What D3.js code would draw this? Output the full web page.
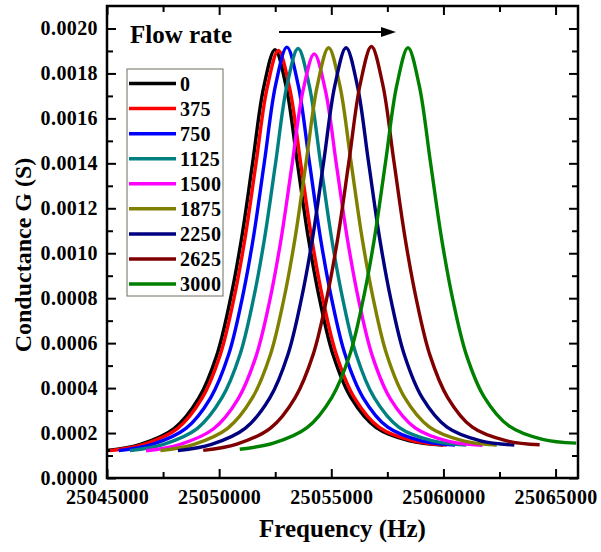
<!DOCTYPE html>
<html>
<head>
<meta charset="utf-8">
<script src="https://cdn.jsdelivr.net/npm/d3@7/dist/d3.min.js"></script>
<style>
  html, body { margin: 0; padding: 0; background: #fff; }
  svg { display: block; }
  text { font-family: "Liberation Serif", "Times New Roman", serif; font-weight: bold; fill: #000; }
</style>
</head>
<body>
<svg id="chart" width="601" height="552"></svg>
<script>
// ---- Data ----
const flowRates = ["0", "375", "750", "1125", "1500", "1875", "2250", "2625", "3000"];
const seriesColors = ["#000000", "#ff0000", "#0000ff", "#008080", "#ff00ff", "#808000", "#000080", "#800000", "#008000"];

const freq0 = [25044990, 25046490, 25047990, 25049090, 25049890, 25050490, 25050990, 25051490, 25051990, 25052490, 25052990, 25053490, 25053990, 25054490, 25055090, 25055890, 25056990, 25058490, 25059990];
const cond0 = [0.000122, 0.000150, 0.000220, 0.000355, 0.000545, 0.000790, 0.001060, 0.001400, 0.001740, 0.001906, 0.001740, 0.001400, 0.001060, 0.000790, 0.000545, 0.000355, 0.000225, 0.000165, 0.000147];

const freq375 = [25045140, 25046640, 25048140, 25049240, 25050040, 25050640, 25051140, 25051640, 25052140, 25052640, 25053140, 25053640, 25054140, 25054640, 25055240, 25056040, 25057140, 25058640, 25060140];
const cond375 = [0.000122, 0.000150, 0.000220, 0.000355, 0.000545, 0.000789, 0.001058, 0.001397, 0.001736, 0.001902, 0.001736, 0.001397, 0.001058, 0.000789, 0.000545, 0.000355, 0.000225, 0.000165, 0.000147];

const freq750 = [25045520, 25047020, 25048520, 25049620, 25050420, 25051020, 25051520, 25052020, 25052520, 25053020, 25053520, 25054020, 25054520, 25055020, 25055620, 25056420, 25057520, 25059020, 25060520];
const cond750 = [0.000122, 0.000150, 0.000221, 0.000357, 0.000548, 0.000795, 0.001066, 0.001408, 0.001750, 0.001917, 0.001750, 0.001408, 0.001066, 0.000795, 0.000548, 0.000357, 0.000226, 0.000165, 0.000147];

const freq1125 = [25046020, 25047520, 25049020, 25050120, 25050920, 25051520, 25052020, 25052520, 25053020, 25053520, 25054020, 25054520, 25055020, 25055520, 25056120, 25056920, 25058020, 25059520, 25061020];
const cond1125 = [0.000122, 0.000150, 0.000220, 0.000356, 0.000546, 0.000792, 0.001063, 0.001404, 0.001745, 0.001911, 0.001745, 0.001404, 0.001063, 0.000792, 0.000546, 0.000356, 0.000225, 0.000165, 0.000147];

const freq1500 = [25046740, 25048240, 25049740, 25050840, 25051640, 25052240, 25052740, 25053240, 25053740, 25054240, 25054740, 25055240, 25055740, 25056240, 25056840, 25057640, 25058740, 25060240, 25061740];
const cond1500 = [0.000121, 0.000149, 0.000218, 0.000351, 0.000540, 0.000782, 0.001050, 0.001386, 0.001723, 0.001887, 0.001723, 0.001386, 0.001050, 0.000782, 0.000540, 0.000351, 0.000223, 0.000163, 0.000146];

const freq1875 = [25047380, 25048880, 25050380, 25051480, 25052280, 25052880, 25053380, 25053880, 25054380, 25054880, 25055380, 25055880, 25056380, 25056880, 25057480, 25058280, 25059380, 25060880, 25062380];
const cond1875 = [0.000122, 0.000150, 0.000221, 0.000356, 0.000547, 0.000793, 0.001064, 0.001406, 0.001747, 0.001914, 0.001747, 0.001406, 0.001064, 0.000793, 0.000547, 0.000356, 0.000226, 0.000165, 0.000147];

const freq2250 = [25048160, 25049660, 25051160, 25052260, 25053060, 25053660, 25054160, 25054660, 25055160, 25055660, 25056160, 25056660, 25057160, 25057660, 25058260, 25059060, 25060160, 25061660, 25063160];
const cond2250 = [0.000122, 0.000150, 0.000221, 0.000356, 0.000547, 0.000793, 0.001064, 0.001406, 0.001747, 0.001914, 0.001747, 0.001406, 0.001064, 0.000793, 0.000547, 0.000356, 0.000226, 0.000165, 0.000147];

const freq2625 = [25049290, 25050790, 25052290, 25053390, 25054190, 25054790, 25055290, 25055790, 25056290, 25056790, 25057290, 25057790, 25058290, 25058790, 25059390, 25060190, 25061290, 25062790, 25064290];
const cond2625 = [0.000123, 0.000151, 0.000222, 0.000358, 0.000549, 0.000796, 0.001068, 0.001410, 0.001753, 0.001920, 0.001753, 0.001410, 0.001068, 0.000796, 0.000549, 0.000358, 0.000226, 0.000166, 0.000148];

const freq3000 = [25050920, 25052420, 25053920, 25055020, 25055820, 25056420, 25056920, 25057420, 25057920, 25058420, 25058920, 25059420, 25059920, 25060420, 25061020, 25061820, 25062920, 25064420, 25065920];
const cond3000 = [0.000128, 0.000155, 0.000224, 0.000358, 0.000547, 0.000793, 0.001064, 0.001406, 0.001747, 0.001914, 0.001747, 0.001406, 0.001064, 0.000793, 0.000549, 0.000360, 0.000232, 0.000172, 0.000155];

const xTickValues = [25045000, 25050000, 25055000, 25060000, 25065000];
const yTickValues = [0.0000, 0.0002, 0.0004, 0.0006, 0.0008, 0.0010, 0.0012, 0.0014, 0.0016, 0.0018, 0.0020];
const xTitle = "Frequency (Hz)";
const yTitle = "Conductance G (S)";
const legendTitle = "Flow rate";

const freqs = [freq0, freq375, freq750, freq1125, freq1500, freq1875, freq2250, freq2625, freq3000];
const conds = [cond0, cond375, cond750, cond1125, cond1500, cond1875, cond2250, cond2625, cond3000];

// ---- Layout ----
const svg = d3.select("#chart");
const L = 107, R = 578, T = 6, B = 478;

const x = d3.scaleLinear().domain([25045000, 25066000]).range([L, R]);
const y = d3.scaleLinear().domain([0, 0.0021]).range([B, T]);

svg.append("defs").append("clipPath").attr("id", "clip")
  .append("rect").attr("x", L).attr("y", T).attr("width", R - L).attr("height", B - T);

// curves
const line = d3.line().x(d => x(d[0])).y(d => y(d[1])).curve(d3.curveCatmullRom.alpha(0.5));
const gCurves = svg.append("g").attr("clip-path", "url(#clip)");
flowRates.forEach((name, i) => {
  const pts = freqs[i].map((f, j) => [f, conds[i][j]]);
  gCurves.append("path").datum(pts)
    .attr("d", line)
    .attr("fill", "none")
    .attr("stroke", seriesColors[i])
    .attr("stroke-width", 3.4)
    .attr("stroke-linejoin", "round");
});

// minor ticks
const xMinor = d3.range(25047500, 25066000, 5000);
const yMinor = d3.range(0.0001, 0.0021, 0.0002);
const styleAxis = g => {
  g.select(".domain").remove();
  g.selectAll(".tick line").attr("stroke", "#000").attr("stroke-width", 2);
};

svg.append("g").attr("transform", `translate(0,${B})`)
  .call(d3.axisBottom(x).tickValues(xMinor).tickSize(-6).tickFormat(""))
  .call(styleAxis);
svg.append("g").attr("transform", `translate(0,${T})`)
  .call(d3.axisTop(x).tickValues(xMinor).tickSize(-6).tickFormat(""))
  .call(styleAxis);
svg.append("g").attr("transform", `translate(${L},0)`)
  .call(d3.axisLeft(y).tickValues(yMinor).tickSize(-6).tickFormat(""))
  .call(styleAxis);
svg.append("g").attr("transform", `translate(${R},0)`)
  .call(d3.axisRight(y).tickValues(yMinor).tickSize(-6).tickFormat(""))
  .call(styleAxis);

// major ticks
const fmtY = d3.format(".4f");
const xAx = svg.append("g").attr("transform", `translate(0,${B})`)
  .call(d3.axisBottom(x).tickValues(xTickValues).tickSize(-9).tickPadding(12).tickFormat(d3.format("d")))
  .call(styleAxis);
xAx.selectAll("text").attr("font-size", 20).style("letter-spacing", "0.4px")
  .attr("font-family", "Liberation Serif").attr("font-weight", "bold").attr("fill", "#000");

svg.append("g").attr("transform", `translate(0,${T})`)
  .call(d3.axisTop(x).tickValues(xTickValues).tickSize(-9).tickFormat(""))
  .call(styleAxis);

const yAx = svg.append("g").attr("transform", `translate(${L},0)`)
  .call(d3.axisLeft(y).tickValues(yTickValues).tickSize(-9).tickPadding(9).tickFormat(fmtY))
  .call(styleAxis);
yAx.selectAll("text").attr("font-size", 20).style("letter-spacing", "0.4px")
  .attr("font-family", "Liberation Serif").attr("font-weight", "bold").attr("fill", "#000");

svg.append("g").attr("transform", `translate(${R},0)`)
  .call(d3.axisRight(y).tickValues(yTickValues).tickSize(-9).tickFormat(""))
  .call(styleAxis);

// frame
svg.append("rect").attr("x", L).attr("y", T).attr("width", R - L).attr("height", B - T)
  .attr("fill", "none").attr("stroke", "#000").attr("stroke-width", 2.5);

// axis titles
svg.append("text").attr("x", (L + R) / 2 - 0).attr("y", 537).attr("text-anchor", "middle")
  .attr("font-size", 25).text(xTitle);
svg.append("text").attr("transform", `translate(31,${(T + B) / 2 + 13}) rotate(-90)`)
  .attr("text-anchor", "middle").attr("font-size", 24).text(yTitle);

// "Flow rate" + arrow
svg.append("text").attr("x", 130).attr("y", 43).attr("font-size", 25).text(legendTitle);
svg.append("line").attr("x1", 279).attr("y1", 32).attr("x2", 384).attr("y2", 32)
  .attr("stroke", "#000").attr("stroke-width", 2);
svg.append("path").attr("d", "M381,27 L396,32 L381,37 Z").attr("fill", "#000");

// legend
const lg = svg.append("g");
lg.append("rect").attr("x", 127).attr("y", 69).attr("width", 96).attr("height", 227)
  .attr("fill", "#fff").attr("stroke", "#6e6e5e").attr("stroke-width", 1);
const ly = d3.scalePoint().domain(flowRates).range([83.5, 284]);
flowRates.forEach((name, i) => {
  lg.append("line").attr("x1", 129).attr("x2", 176)
    .attr("y1", ly(name)).attr("y2", ly(name))
    .attr("stroke", seriesColors[i]).attr("stroke-width", 3.5);
  lg.append("text").attr("x", 180).attr("y", ly(name) + 7)
    .attr("font-size", 20).style("letter-spacing", "0.3px").text(name);
});
</script>
</body>
</html>
